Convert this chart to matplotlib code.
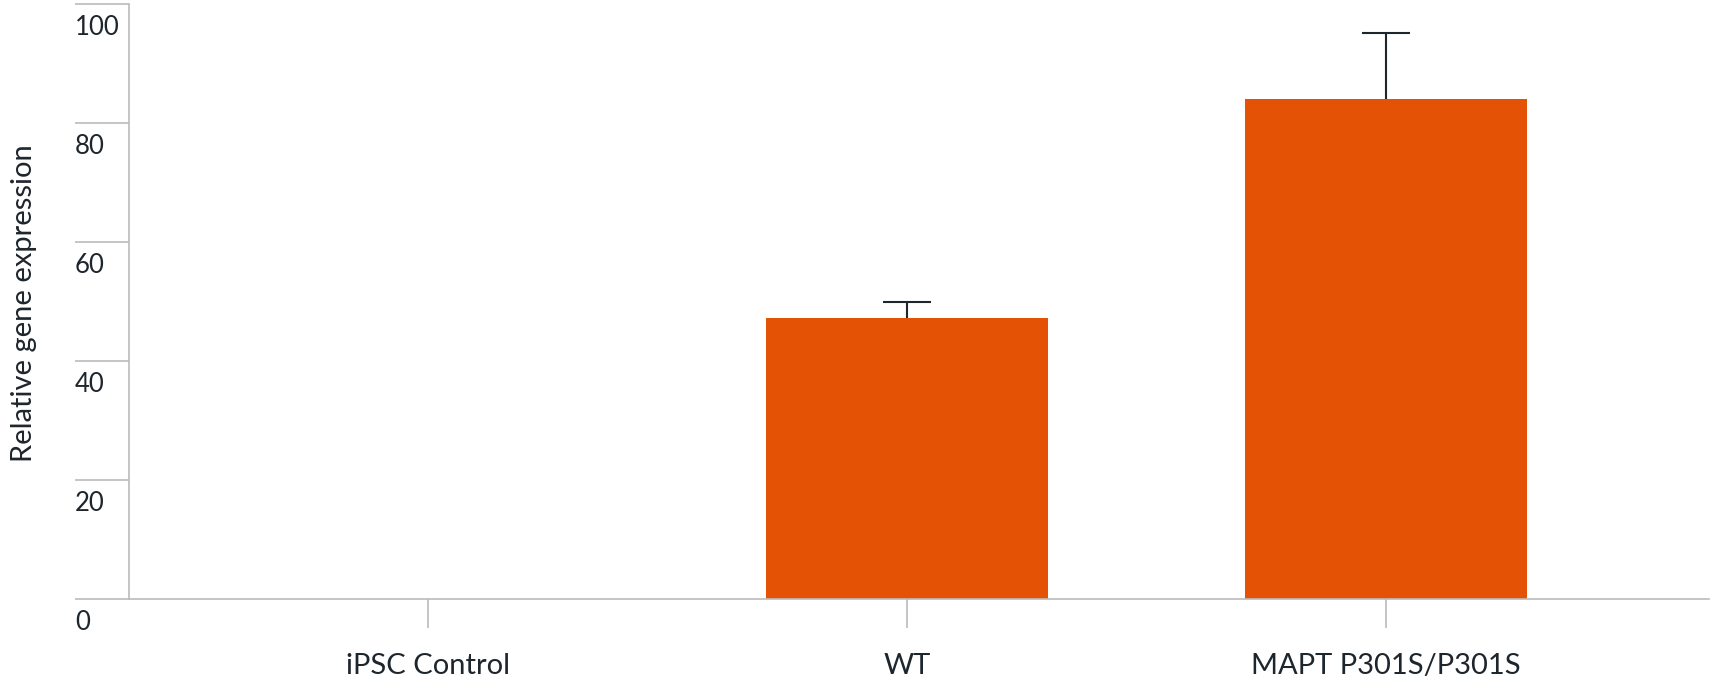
import numpy as np
import matplotlib
matplotlib.use("Agg")
import matplotlib.pyplot as plt
from matplotlib.transforms import ScaledTranslation

# dane
categories = ["iPSC Control", "WT", "MAPT P301S/P301S"]
values = [0.0, 47.2, 84.1]
err_upper = [0.0, 2.8, 11.1]
y_ticks = [0, 20, 40, 60, 80, 100]

plt.rcParams['font.family'] = ['Lato', 'DejaVu Sans']

text_col = "#1d252d"
axis_col = "#bbbbbb"
bar_col = "#e35205"

fig = plt.figure(figsize=(17.15, 6.91), dpi=100)
ax = fig.add_axes([0.0752, 0.1331, 0.9213, 0.8611])

x = np.arange(len(categories))
ax.bar(x, values, width=0.587, color=bar_col, zorder=2)
eb = ax.errorbar(x[1:], values[1:], yerr=[np.zeros(2), err_upper[1:]], fmt='none',
                 ecolor=text_col, elinewidth=1.5, capsize=17.5, capthick=1.5, zorder=3)
# tylko górna kreska
eb.lines[1][0].set_visible(False)

ax.set_xlim(-0.624, 2.674)
ax.set_ylim(0, 100)

for s in ['top', 'right']:
    ax.spines[s].set_visible(False)
for s in ['left', 'bottom']:
    ax.spines[s].set_color(axis_col)
    ax.spines[s].set_linewidth(1.2)

ax.set_xticks(x)
ax.set_xticklabels(categories, fontsize=21, color=text_col)
ax.tick_params(axis='x', length=21, width=1.2, color=axis_col, pad=18)

ax.set_yticks(y_ticks)
ax.set_yticklabels([str(t) for t in y_ticks], fontsize=18.5, color=text_col)
ax.tick_params(axis='y', length=39, width=1.2, color=axis_col, pad=0)
off = ScaledTranslation(0, -8 / 72, fig.dpi_scale_trans)
for lab in ax.get_yticklabels():
    lab.set_horizontalalignment('left')
    lab.set_verticalalignment('top')
    lab.set_transform(lab.get_transform() + off)

ax.set_ylabel("Relative gene expression", fontsize=21, color=text_col, labelpad=0)
ax.yaxis.set_label_coords(-0.058, 0.497)

fig.savefig("out.png", dpi=100)
